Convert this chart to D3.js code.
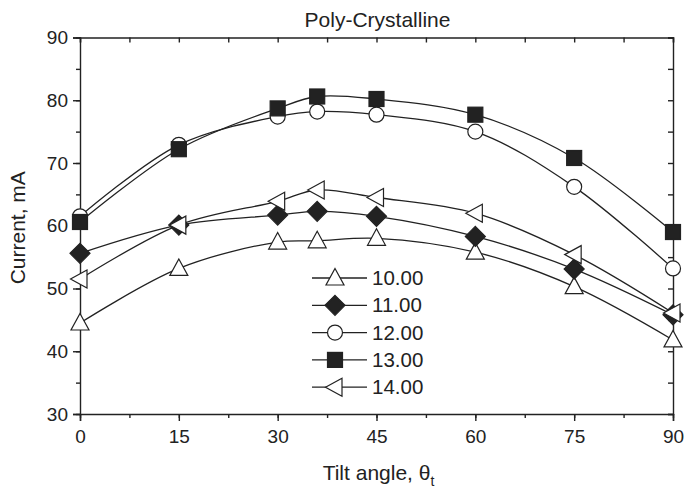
<!DOCTYPE html>
<html>
<head>
<meta charset="utf-8">
<script src="https://cdn.jsdelivr.net/npm/d3@7"></script>
<style>
  body { margin: 0; background: #fff; }
  text { font-family: "Liberation Sans", Arial, sans-serif; fill: #222; }
</style>
</head>
<body>
<svg id="chart"></svg>
<script>
const angles = [0, 15, 30, 36, 45, 60, 75, 90];
const labels = ["10.00", "11.00", "12.00", "13.00", "14.00"];
const s10 = [44.5, 53.2, 57.4, 57.6, 58.0, 55.8, 50.3, 41.8];
const s11 = [55.6, 60.1, 61.7, 62.3, 61.5, 58.3, 53.1, 45.8];
const s12 = [61.5, 72.9, 77.4, 78.2, 77.7, 75.0, 66.2, 53.2];
const s13 = [60.6, 72.2, 78.7, 80.6, 80.2, 77.7, 70.8, 59.0];
const s14 = [51.5, 60.1, 63.9, 65.7, 64.5, 62.0, 55.4, 46.1];
const xTicks = [0, 15, 30, 45, 60, 75, 90];
const yTicks = [30, 40, 50, 60, 70, 80, 90];

const width = 687, height = 493;
const margin = { left: 80, right: 14, top: 37.5, bottom: 79 };

const series = [
  { name: labels[0], values: s10, shape: "triUp" },
  { name: labels[1], values: s11, shape: "diamond" },
  { name: labels[2], values: s12, shape: "circle" },
  { name: labels[3], values: s13, shape: "square" },
  { name: labels[4], values: s14, shape: "triLeft" }
];

const svg = d3.select("#chart").attr("width", width).attr("height", height);

const x = d3.scaleLinear().domain([0, 90]).range([margin.left, width - margin.right]);
const y = d3.scaleLinear().domain([30, 90]).range([height - margin.bottom, margin.top]);

const ink = "#222";

// minor + major ticks, bottom/left outward, top/right inward
const xMinor = d3.range(0, 90.1, 7.5);
const yMinor = d3.range(30, 90.1, 5);

svg.append("g")
  .attr("transform", `translate(0,${y(30)})`)
  .call(d3.axisBottom(x).tickValues(xMinor).tickSize(4).tickFormat(""))
  .call(g => g.select(".domain").remove());
svg.append("g")
  .attr("transform", `translate(0,${y(30)})`)
  .call(d3.axisBottom(x).tickValues(xTicks).tickSize(7).tickPadding(9))
  .call(g => g.selectAll("text").style("font-size", "19px"));

svg.append("g")
  .attr("transform", `translate(${x(0)},0)`)
  .call(d3.axisLeft(y).tickValues(yMinor).tickSize(4).tickFormat(""))
  .call(g => g.select(".domain").remove());
svg.append("g")
  .attr("transform", `translate(${x(0)},0)`)
  .call(d3.axisLeft(y).tickValues(yTicks).tickSize(7).tickPadding(5))
  .call(g => g.selectAll("text").style("font-size", "19px"));

svg.append("g")
  .attr("transform", `translate(0,${y(90)})`)
  .call(d3.axisBottom(x).tickValues(xMinor).tickSize(5).tickFormat(""));
svg.append("g")
  .attr("transform", `translate(${x(90)},0)`)
  .call(d3.axisLeft(y).tickValues(yMinor).tickSize(5).tickFormat(""));

svg.selectAll(".domain, .tick line").attr("stroke", ink).attr("stroke-width", 1.4);
svg.selectAll(".tick text").attr("fill", ink);

// titles
svg.append("text")
  .attr("x", (x(0) + x(90)) / 2 + 1).attr("y", 27)
  .attr("text-anchor", "middle").style("font-size", "21px")
  .text("Poly-Crystalline");

const xl = svg.append("text")
  .attr("x", (x(0) + x(90)) / 2 + 2).attr("y", 480)
  .attr("text-anchor", "middle").style("font-size", "21px");
xl.append("tspan").text("Tilt angle, θ");
xl.append("tspan").attr("dy", 6).style("font-size", "14px").text("t");

svg.append("text")
  .attr("transform", `translate(25,${(y(30) + y(90)) / 2 + 2}) rotate(-90)`)
  .attr("text-anchor", "middle").style("font-size", "21px")
  .text("Current, mA");

// markers
function marker(g, shape) {
  if (shape === "circle") {
    g.append("circle").attr("r", 7.5).attr("fill", "#fff");
  } else if (shape === "square") {
    g.append("rect").attr("x", -7.5).attr("y", -7.5).attr("width", 15).attr("height", 15).attr("fill", ink);
  } else if (shape === "diamond") {
    g.append("path").attr("d", "M0,-10L10,0L0,10L-10,0Z").attr("fill", ink);
  } else if (shape === "triUp") {
    g.append("path").attr("d", "M0,-9.5L9,7L-9,7Z").attr("fill", "#fff");
  } else if (shape === "triLeft") {
    g.append("path").attr("d", "M-9.5,0L7,-9L7,9Z").attr("fill", "#fff");
  }
  g.selectAll("*").attr("stroke", ink).attr("stroke-width", 1.2);
}

const line = d3.line()
  .x((d, i) => x(angles[i]))
  .y(d => y(d))
  .curve(d3.curveCatmullRom.alpha(0.5));

const plot = svg.append("g");
series.forEach(s => {
  plot.append("path")
    .attr("d", line(s.values))
    .attr("fill", "none")
    .attr("stroke", ink)
    .attr("stroke-width", 1.3);
});
series.forEach(s => {
  s.values.forEach((v, i) => {
    const g = plot.append("g").attr("transform", `translate(${x(angles[i])},${y(v)})`);
    marker(g, s.shape);
  });
});

// legend
const legend = svg.append("g").attr("transform", "translate(312,278)");
series.forEach((s, i) => {
  const row = legend.append("g").attr("transform", `translate(0,${i * 27.3})`);
  row.append("line").attr("x1", 0).attr("x2", 55).attr("stroke", ink).attr("stroke-width", 1.3);
  marker(row.append("g").attr("transform", "translate(23,0)"), s.shape);
  row.append("text").attr("x", 60).attr("y", 7).style("font-size", "20.5px").text(s.name);
});
</script>
</body>
</html>
